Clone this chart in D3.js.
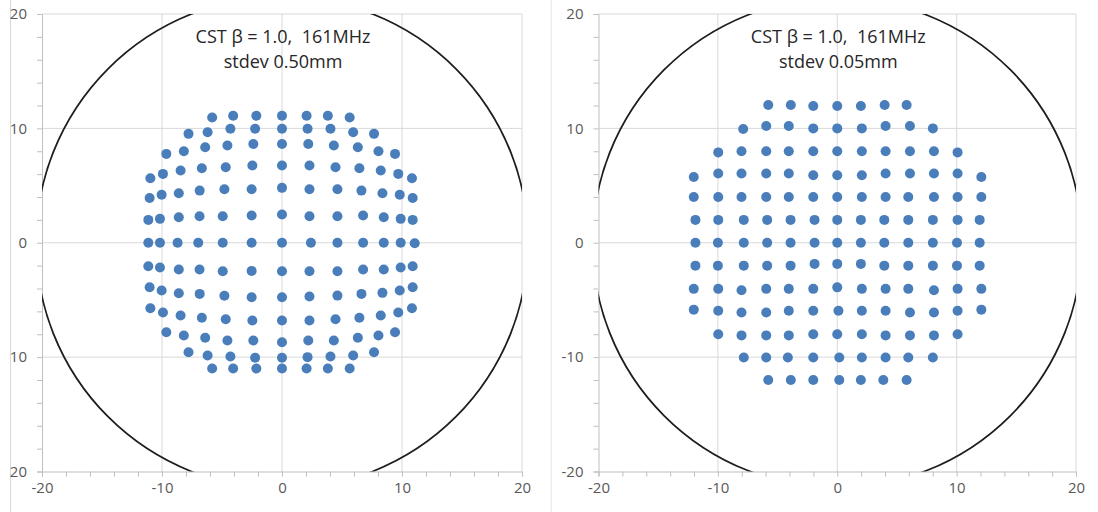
<!DOCTYPE html>
<html>
<head>
<meta charset="utf-8">
<script src="https://cdn.jsdelivr.net/npm/d3@7/dist/d3.min.js"></script>
<style>
  html, body { margin: 0; padding: 0; background: #fff; }
  svg { display: block; }
</style>
</head>
<body>
<div id="chart"></div>
<script>
// tick values
const majorTicks = [-20, -10, 0, 10, 20];
const minorTicks = [-20, -18, -16, -14, -12, -10, -8, -6, -4, -2, 0, 2, 4, 6, 8, 10, 12, 14, 16, 18, 20];

// aperture radius (black ring)
const apertureRadius = 20.5;

const titleLine1 = "CST \u03b2 = 1.0,  161MHz";
const leftSubtitle = "stdev 0.50mm";
const rightSubtitle = "stdev 0.05mm";

// stdev 0.50mm, beamlet positions read row by row
const leftPoints = [
  [-5.82, 10.95], [-4.07, 11.1], [-2.14, 11.1], [0, 11.1], [2.05, 11.1], [3.82, 11.1], [5.64, 10.95],
  [-7.79, 9.52], [-6.2, 9.66], [-4.3, 9.96], [-2.24, 9.96], [0, 9.96], [2.13, 9.96], [4.04, 9.96], [5.93, 9.66], [7.67, 9.52],
  [-9.64, 7.77], [-8.18, 8.0], [-6.4, 8.35], [-4.55, 8.5], [-2.39, 8.64], [0, 8.64], [2.19, 8.64], [4.32, 8.5], [6.32, 8.35], [8.04, 8.0], [9.42, 7.77],
  [-10.97, 5.64], [-9.92, 6.02], [-8.45, 6.31], [-6.68, 6.51], [-4.69, 6.6], [-2.47, 6.75], [0, 6.75], [2.29, 6.75], [4.46, 6.6], [6.45, 6.51], [8.23, 6.31], [9.69, 6.02], [10.83, 5.64],
  [-11.03, 3.92], [-10.03, 4.19], [-8.6, 4.33], [-6.86, 4.56], [-4.8, 4.68], [-2.53, 4.68], [0, 4.8], [2.29, 4.68], [4.62, 4.68], [6.62, 4.56], [8.37, 4.33], [9.81, 4.19], [10.89, 3.92],
  [-11.14, 2.0], [-10.17, 2.09], [-8.6, 2.23], [-6.87, 2.32], [-4.94, 2.32], [-2.53, 2.38], [0, 2.47], [2.29, 2.32], [4.62, 2.32], [6.76, 2.38], [8.48, 2.23], [9.89, 2.09], [10.89, 2.0],
  [-11.14, 0], [-10.17, 0], [-8.7, 0], [-6.98, 0], [-4.94, 0], [-2.53, 0], [0, 0], [2.41, 0], [4.62, 0], [6.76, 0], [8.48, 0], [9.89, 0], [11.06, -0.05],
  [-11.14, -2.05], [-10.17, -2.17], [-8.6, -2.34], [-6.87, -2.34], [-4.94, -2.49], [-2.53, -2.46], [0, -2.49], [2.29, -2.49], [4.62, -2.49], [6.76, -2.34], [8.48, -2.34], [9.89, -2.17], [10.89, -2.05],
  [-11.03, -3.89], [-10.03, -4.18], [-8.6, -4.41], [-6.86, -4.47], [-4.8, -4.64], [-2.53, -4.76], [0, -4.76], [2.29, -4.7], [4.62, -4.62], [6.62, -4.47], [8.37, -4.38], [9.81, -4.18], [10.89, -3.89],
  [-10.97, -5.73], [-9.92, -6.1], [-8.45, -6.36], [-6.68, -6.56], [-4.69, -6.69], [-2.47, -6.8], [0, -6.8], [2.29, -6.8], [4.46, -6.69], [6.45, -6.56], [8.23, -6.36], [9.69, -6.1], [10.83, -5.73],
  [-9.64, -7.82], [-8.18, -8.11], [-6.4, -8.31], [-4.55, -8.55], [-2.39, -8.55], [0, -8.7], [2.19, -8.55], [4.32, -8.55], [6.32, -8.31], [8.04, -8.11], [9.42, -7.82],
  [-7.79, -9.57], [-6.2, -9.86], [-4.3, -9.95], [-2.24, -10.06], [0, -10.06], [2.13, -10.0], [4.04, -9.95], [5.93, -9.86], [7.67, -9.57],
  [-5.82, -11.0], [-4.07, -11.0], [-2.14, -11.0], [0, -11.0], [2.05, -11.0], [3.82, -11.0], [5.64, -11.0]
];

// stdev 0.05mm
const rightPoints = [
  [-5.78, 12.05], [-3.89, 12.05], [-2.01, 11.95], [0, 11.95], [1.98, 11.95], [3.97, 12.05], [5.81, 12.05],
  [-7.88, 9.94], [-5.95, 10.2], [-4.06, 10.2], [-2.01, 10.0], [0, 10.0], [2.06, 10.0], [4.05, 10.2], [6.09, 10.2], [8.01, 10.0],
  [-9.97, 7.9], [-8.02, 8.0], [-5.95, 8.0], [-4.06, 8.0], [-2.01, 8.0], [0, 8.0], [2.06, 8.0], [4.05, 8.0], [6.09, 8.0], [8.1, 8.0], [10.08, 7.9],
  [-12.02, 5.75], [-9.97, 6.05], [-8.02, 6.05], [-5.95, 6.05], [-4.06, 6.05], [-2.01, 5.9], [0, 5.9], [2.06, 5.9], [4.05, 6.05], [6.09, 6.05], [8.1, 6.05], [10.08, 6.05], [12.07, 5.75],
  [-12.02, 4.0], [-9.97, 4.0], [-8.02, 4.0], [-5.95, 4.0], [-4.06, 4.0], [-2.01, 4.0], [0, 4.0], [2.06, 4.0], [4.05, 4.0], [5.95, 4.0], [8.1, 4.0], [10.08, 4.0], [12.07, 4.0],
  [-11.88, 2.0], [-9.97, 2.0], [-7.83, 2.0], [-5.87, 2.0], [-3.91, 2.0], [-1.9, 2.0], [0, 2.0], [1.98, 2.0], [3.94, 2.0], [5.95, 2.0], [8.01, 2.0], [10.08, 2.0], [11.93, 2.0],
  [-11.88, 0], [-10.0, 0], [-7.83, 0], [-5.87, 0], [-3.91, 0], [-1.9, 0], [0, 0], [1.98, 0], [3.94, 0], [5.95, 0], [8.01, 0], [10.03, 0], [11.93, 0],
  [-11.88, -2.0], [-10.0, -2.0], [-7.83, -2.0], [-5.87, -2.0], [-3.91, -2.0], [-1.9, -1.85], [0, -1.85], [1.98, -1.85], [3.94, -2.0], [5.95, -2.0], [8.01, -2.0], [10.03, -2.0], [11.93, -2.0],
  [-12.02, -4.03], [-9.97, -4.03], [-8.02, -4.15], [-5.95, -4.03], [-4.06, -4.03], [-2.01, -4.03], [0, -3.9], [2.06, -4.03], [4.05, -4.03], [5.95, -4.03], [8.1, -4.15], [10.08, -4.03], [12.07, -4.03],
  [-12.02, -5.85], [-9.97, -5.95], [-8.02, -6.1], [-5.95, -6.1], [-4.06, -5.95], [-2.01, -5.95], [0.1, -5.95], [2.06, -5.95], [4.05, -5.95], [6.09, -6.1], [8.1, -6.1], [10.08, -5.95], [12.07, -5.85],
  [-9.97, -8.0], [-8.02, -8.1], [-5.95, -8.1], [-4.06, -8.1], [-2.01, -8.0], [0, -8.0], [2.06, -8.0], [4.05, -8.1], [6.09, -8.1], [8.1, -8.1], [10.08, -8.0],
  [-7.83, -10.03], [-5.95, -10.03], [-4.14, -10.03], [-2.01, -10.03], [0.17, -10.03], [2.06, -10.03], [4.05, -10.03], [5.95, -10.03], [8.01, -10.03],
  [-5.78, -12.0], [-3.89, -12.0], [-2.01, -12.0], [0.17, -12.0], [1.98, -12.0], [3.86, -12.0], [5.81, -12.0]
];

const W = 1098, H = 512;
const gridColor = "#d9d9d9";
const axisColor = "#bfbfbf";
const labelColor = "#595959";
const dotColor = "#4a7ebb";
const font = "'Open Sans', 'Liberation Sans', sans-serif";

const svg = d3.select("#chart").append("svg")
    .attr("width", W)
    .attr("height", H)
    .attr("viewBox", `0 0 ${W} ${H}`);

const panels = [
  {id: "left", frameX: 10, xRange: [42, 522], points: leftPoints, subtitle: leftSubtitle},
  {id: "right", frameX: 550.5, xRange: [598.5, 1076], points: rightPoints, subtitle: rightSubtitle}
];

panels.forEach((p) => {
  const x = d3.scaleLinear().domain([-20, 20]).range(p.xRange);
  const y = d3.scaleLinear().domain([-20, 20]).range([471.5, 14]);

  // chart area clip (left frame edge cuts the labels)
  svg.append("clipPath").attr("id", `frame-${p.id}`)
    .append("rect").attr("x", p.frameX).attr("y", 0).attr("width", 540).attr("height", H);
  svg.append("clipPath").attr("id", `plot-${p.id}`)
    .append("rect")
    .attr("x", x(-20)).attr("y", y(20))
    .attr("width", x(20) - x(-20)).attr("height", y(-20) - y(20));

  const g = svg.append("g").attr("clip-path", `url(#frame-${p.id})`);

  // frame edge
  g.append("line")
    .attr("x1", p.frameX + 0.5).attr("x2", p.frameX + 0.5)
    .attr("y1", 0).attr("y2", H)
    .attr("stroke", gridColor);

  // gridlines
  g.append("g").selectAll("line.v")
    .data(majorTicks.filter(d => d > -20))
    .join("line")
    .attr("x1", d => x(d)).attr("x2", d => x(d))
    .attr("y1", y(-20)).attr("y2", y(20))
    .attr("stroke", gridColor);
  g.append("g").selectAll("line.h")
    .data(majorTicks.filter(d => d > -20))
    .join("line")
    .attr("x1", x(-20)).attr("x2", x(20))
    .attr("y1", d => y(d)).attr("y2", d => y(d))
    .attr("stroke", gridColor);

  // axes
  const xAxis = g.append("g")
    .attr("transform", `translate(0,${y(-20)})`)
    .call(d3.axisBottom(x).tickValues(minorTicks).tickSize(5).tickFormat(""));
  const xLabels = g.append("g")
    .attr("transform", `translate(0,${y(-20)})`)
    .call(d3.axisBottom(x).tickValues(majorTicks).tickSize(0).tickPadding(16).tickFormat(d3.format("d")));
  const yAxis = g.append("g")
    .attr("transform", `translate(${x(-20)},0)`)
    .call(d3.axisLeft(y).tickValues(minorTicks).tickSize(5).tickFormat(""));
  const yLabels = g.append("g")
    .attr("transform", `translate(${x(-20)},0)`)
    .call(d3.axisLeft(y).tickValues(majorTicks).tickSize(0).tickPadding(15).tickFormat(d3.format("d")));

  [xAxis, yAxis].forEach(a => {
    a.select(".domain").attr("stroke", axisColor);
    a.selectAll(".tick line").attr("stroke", axisColor);
  });
  [xLabels, yLabels].forEach(a => {
    a.select(".domain").remove();
    a.selectAll("text")
      .attr("fill", labelColor)
      .style("font-family", font)
      .style("font-size", "15px");
  });
  xLabels.selectAll("text").attr("dy", "0.35em");
  yLabels.selectAll("text").text(d => d < 0 ? "-" + Math.abs(d) : d);
  xLabels.selectAll("text").text(d => d < 0 ? "-" + Math.abs(d) : d);

  // plot contents
  const plot = g.append("g").attr("clip-path", `url(#plot-${p.id})`);

  plot.append("circle")
    .attr("cx", x(0)).attr("cy", y(0))
    .attr("r", x(apertureRadius) - x(0))
    .attr("fill", "none")
    .attr("stroke", "#1e1e1e")
    .attr("stroke-width", 1.8);

  plot.append("g").selectAll("circle.dot")
    .data(p.points)
    .join("circle")
    .attr("class", "dot")
    .attr("cx", d => x(d[0]))
    .attr("cy", d => y(d[1]))
    .attr("r", 5)
    .attr("fill", dotColor);

  // title
  const t = g.append("text")
    .attr("x", x(0) + 1)
    .attr("text-anchor", "middle")
    .attr("fill", "#262626")
    .style("font-family", font)
    .style("font-size", "18px")
    .style("white-space", "pre");
  t.append("tspan").attr("x", x(0) + 1).attr("y", 43).text(titleLine1);
  t.append("tspan").attr("x", x(0) + 1).attr("y", 68).text(p.subtitle);
});
</script>
</body>
</html>
